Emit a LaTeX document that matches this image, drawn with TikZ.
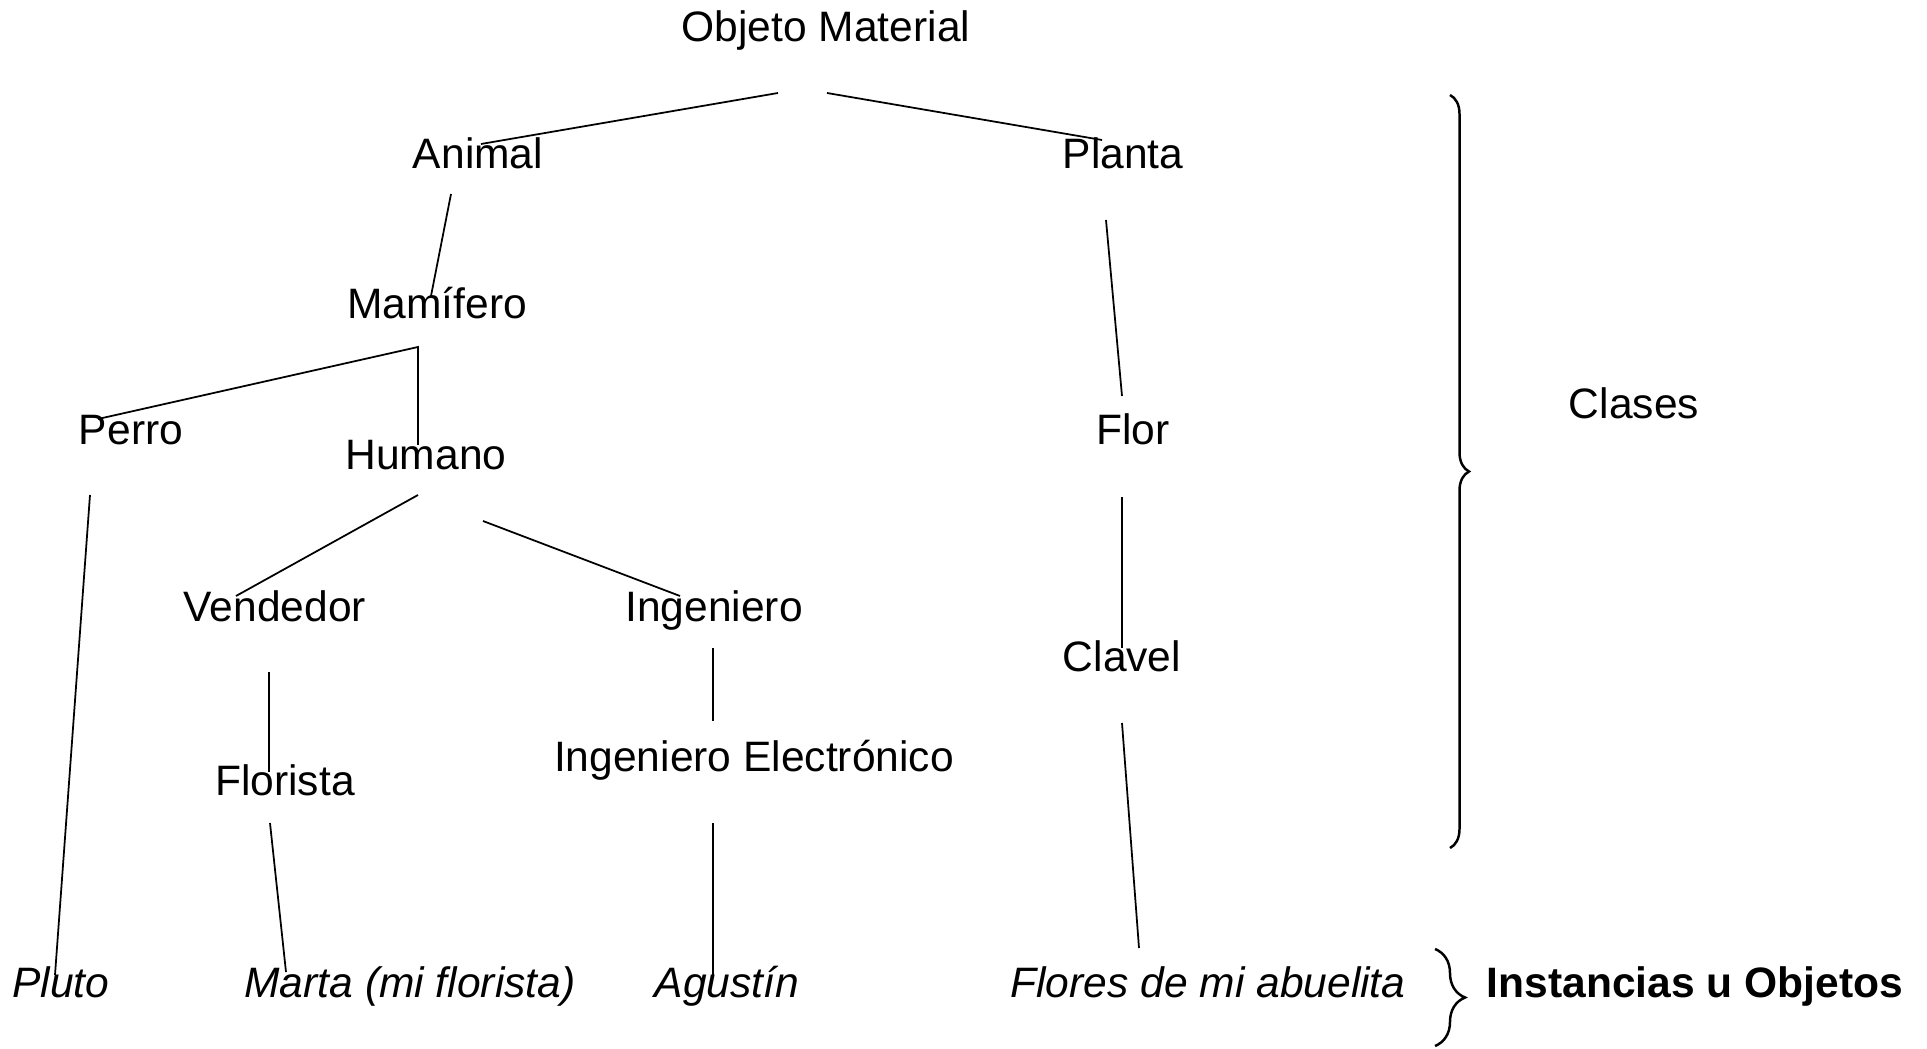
\documentclass[tikz,border=0pt]{standalone}
\usepackage{fontspec}
\setmainfont{Liberation Sans}
\usetikzlibrary{decorations.pathreplacing}
\begin{document}
\begin{tikzpicture}[x=0.01cm,y=-0.01cm,
  lbl/.style={anchor=base,inner sep=0pt,font=\fontsize{12.1}{14}\selectfont},
  inst/.style={lbl,font=\fontsize{12.1}{14}\selectfont\itshape},
  conn/.style={line width=0.5pt},
  bracestyle/.style={line width=0.7pt,decorate}]
\useasboundingbox (0,0) rectangle (1927,1049);
% nodes
\node[lbl] (obj) at (826,42) {Objeto Material};
\node[lbl] (animal) at (478,169) {Animal};
\node[lbl] (planta) at (1123,169) {Planta};
\node[lbl] (mamifero) at (437,319) {Mamífero};
\node[lbl] (perro) at (131,445) {Perro};
\node[lbl] (humano) at (426,470) {Humano};
\node[lbl] (flor) at (1133,445) {Flor};
\node[lbl] (vendedor) at (275,621) {Vendedor};
\node[lbl] (ingeniero) at (714,621) {Ingeniero};
\node[lbl] (clavel) at (1122,671) {Clavel};
\node[lbl] (florista) at (285,795) {Florista};
\node[lbl] (ingelec) at (754,771) {Ingeniero Electrónico};
\node[inst] (pluto) at (61,997) {Pluto};
\node[inst] (marta) at (410,997) {Marta (mi florista)};
\node[inst] (agustin) at (727,997) {Agustín};
\node[inst] (flores) at (1208,997) {Flores de mi abuelita};
\node[lbl] (clases) at (1634,419) {Clases};
\node[lbl,font=\fontsize{12.1}{14}\selectfont\bfseries] (instancias) at (1695,997) {Instancias u Objetos};
% connector end points
\coordinate (objL) at (778,93);
\coordinate (objR) at (827,93);
\coordinate (animalT) at (481,144);
\coordinate (plantaT) at (1102,140);
\coordinate (animalB) at (451,194);
\coordinate (mamT) at (431,296);
\coordinate (mamB) at (418,347);
\coordinate (perroT) at (98,419);
\coordinate (humT) at (418,445);
\coordinate (plantaB) at (1106,220);
\coordinate (florT) at (1122,396);
\coordinate (perroB) at (90,495);
\coordinate (plutoT) at (55,975);
\coordinate (humB) at (418,495);
\coordinate (vendT) at (236,596);
\coordinate (humBR) at (483,521);
\coordinate (ingT) at (680,596);
\coordinate (florB) at (1122,497);
\coordinate (clavelT) at (1122,648);
\coordinate (vendB) at (269,672);
\coordinate (floristaT) at (269,772);
\coordinate (ingB) at (713,648);
\coordinate (ingelecT) at (713,721);
\coordinate (floristaB) at (270,823);
\coordinate (martaT) at (286,972);
\coordinate (ingelecB) at (713,823);
\coordinate (agustinT) at (713,977);
\coordinate (clavelB) at (1122,723);
\coordinate (floresT) at (1139,948);
% connectors
\draw[conn] (objL) -- (animalT);
\draw[conn] (objR) -- (plantaT);
\draw[conn] (animalB) -- (mamT);
\draw[conn] (perroT) -- (mamB) -- (humT);
\draw[conn] (plantaB) -- (florT);
\draw[conn] (perroB) -- (plutoT);
\draw[conn] (humB) -- (vendT);
\draw[conn] (humBR) -- (ingT);
\draw[conn] (florB) -- (clavelT);
\draw[conn] (vendB) -- (floristaT);
\draw[conn] (ingB) -- (ingelecT);
\draw[conn] (floristaB) -- (martaT);
\draw[conn] (ingelecB) -- (agustinT);
\draw[conn] (clavelB) -- (floresT);
% braces
\coordinate (b1t) at (1450,95);
\coordinate (b1b) at (1450,848);
\coordinate (b2t) at (1435,949);
\coordinate (b2b) at (1435,1046);
\draw[bracestyle,decoration={brace,amplitude=0.19cm}] (b1t) -- (b1b);
\draw[bracestyle,decoration={brace,amplitude=0.3cm}] (b2t) -- (b2b);
\end{tikzpicture}
\end{document}
